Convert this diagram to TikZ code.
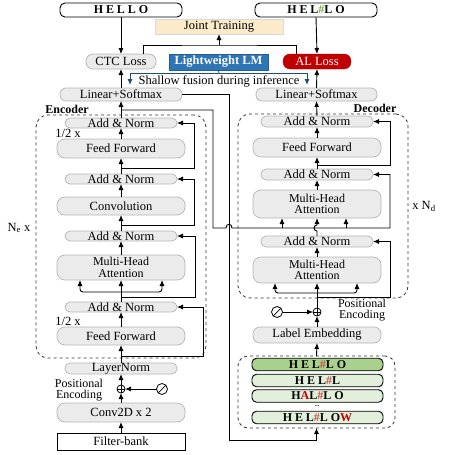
\documentclass[tikz,border=0pt]{standalone}
\usepackage{fontspec}
\setmainfont{Liberation Serif}
\newfontfamily\spaced[LetterSpace=24]{Liberation Serif}
\usetikzlibrary{arrows.meta,calc}
\definecolor{pillfill}{HTML}{EBEBEB}
\definecolor{pillborder}{HTML}{B5B5B5}
\definecolor{jointfill}{HTML}{FCEBCB}
\definecolor{lmblue}{HTML}{2E75B6}
\definecolor{alred}{HTML}{C00000}
\definecolor{fusblue}{HTML}{1F4E79}
\definecolor{hypdark}{HTML}{A9D18E}
\definecolor{hyplight}{HTML}{E2EFDA}
\definecolor{hashgreen}{HTML}{70AD47}
\definecolor{hashred}{HTML}{C0504D}
\definecolor{letred}{HTML}{C00000}
\begin{document}
\begin{tikzpicture}[x=1pt,y=-1pt,
  every node/.style={font=\fontsize{12.5}{11}\selectfont, inner sep=0pt, outer sep=0pt},
  sz/.style 2 args={minimum width=#1, minimum height=#2},
  pill/.style={draw=pillborder, fill=pillfill, rounded corners=5pt, line width=0.7pt},
  twoline/.style={align=center, font=\fontsize{12}{11.5}\selectfont},
  wordbox/.style={draw=black, fill=white, rounded corners=5pt, line width=0.9pt, font=\fontsize{12}{12}\selectfont\spaced\bfseries},
  hyp/.style={draw=black, rounded corners=4.5pt, line width=0.9pt, minimum width=131, minimum height=12.5, font=\fontsize{12}{12}\selectfont\spaced\bfseries},
  dashbox/.style={draw=black!80, dashed, rounded corners=12pt, line width=0.8pt},
  arr/.style={-{Latex[length=6pt,width=5pt]}, line width=0.9pt},
  ln/.style={line width=0.9pt},
  barr/.style={-{Latex[length=6pt,width=5pt]}, line width=0.9pt, draw=fusblue},
  sumc/.style={circle, draw=black, line width=0.8pt, minimum size=8pt},
  zeroc/.style={circle, draw=black, line width=0.8pt, minimum size=11pt},
  lbl/.style={align=center, font=\fontsize{12.5}{10}\selectfont},
  lbl2/.style={align=center, font=\fontsize{12}{11.5}\selectfont}
]
\useasboundingbox (0,0) rectangle (450,455);

% ---------- dashed frames ----------
\node[dashbox, sz={170}{243}] (encbox) at (121,236.5) {};
\node[dashbox, sz={170}{184}] (decbox) at (323,206) {};
\node[dashbox, rounded corners=10pt, sz={157}{72}] (hyps) at (316.5,392) {};

% ---------- top ----------
\node[wordbox, sz={122}{14}] (hello) at (121,10) {HELLO};
\node[wordbox, sz={122}{14}] (hello2) at (316,10) {HEL\textcolor{hashgreen}{\#}LO};
\node[draw=black!15, fill=jointfill, sz={128}{15}] (joint) at (219,26.5) {Joint Training};
\node[pill, sz={70}{15}, rounded corners=7pt] (ctc) at (121,61.5) {CTC Loss};
\node[fill=lmblue, draw=lmblue!80!black, sz={99}{16}, text=white, font=\fontsize{12.5}{11}\selectfont\bfseries] (lm) at (218.5,62) {Lightweight LM};
\node[fill=alred, draw=alred, rounded corners=7pt, sz={68}{15}, text=white] (al) at (317,61.5) {AL Loss};
\node[pill, sz={122}{13}, rounded corners=6pt] (enclin) at (121,94.5) {Linear+Softmax};
\node[pill, sz={121}{13}, rounded corners=6pt] (declin) at (316.5,94.5) {Linear+Softmax};
\node[lbl] (fus) at (219,81.5) {Shallow fusion during inference};

% ---------- encoder ----------
\node[font=\fontsize{12}{11}\selectfont\bfseries] (enclbl) at (67,109) {Encoder};
\node[pill, sz={112}{10}] (ean1) at (121,123) {Add \& Norm};
\node[lbl] (half1) at (68,133) {1/2 x};
\node[pill, sz={128}{19}, rounded corners=8pt] (eff1) at (121,148.5) {Feed Forward};
\node[pill, sz={112}{10}] (ean2) at (121,179) {Add \& Norm};
\node[pill, sz={128}{18}, rounded corners=8pt] (econv) at (121,206) {Convolution};
\node[pill, sz={112}{10}] (ean3) at (121,236) {Add \& Norm};
\node[pill, twoline, sz={128}{25}, rounded corners=8pt] (emha) at (121,267.5) {Multi-Head\\Attention};
\node[pill, sz={112}{10}] (ean4) at (121,307) {Add \& Norm};
\node[lbl] (half2) at (68,321) {1/2 x};
\node[pill, sz={128}{18}, rounded corners=8pt] (eff2) at (121,336) {Feed Forward};
\node[pill, sz={112}{11}] (eln) at (121,368.5) {LayerNorm};
\node[sumc] (eplus) at (121,389) {};
\node[zeroc] (ephi) at (162,389) {};
\node[lbl2] (epos) at (79,390) {Positional\\Encoding};
\node[pill, sz={128}{19}, rounded corners=8pt] (econv2) at (121,412.5) {Conv2D x 2};
\node[draw=black, fill=white, line width=0.9pt, sz={128}{17}] (efb) at (121,441.5) {Filter-bank};
\node[lbl] (ne) at (19,228) {N\textsubscript{e} x};

% ---------- decoder ----------
\node[font=\fontsize{12}{11}\selectfont\bfseries] (declbl) at (375,108) {Decoder};
\node[pill, sz={112}{11}] (dan1) at (317,121.5) {Add \& Norm};
\node[pill, sz={128}{19}, rounded corners=8pt] (dff) at (317,147.5) {Feed Forward};
\node[pill, sz={112}{11}] (dan2) at (317,174.5) {Add \& Norm};
\node[pill, twoline, sz={128}{28}, rounded corners=8pt] (dmha1) at (317,204) {Multi-Head\\Attention};
\node[pill, sz={112}{11}] (dan3) at (317,241.5) {Add \& Norm};
\node[pill, twoline, sz={128}{26}, rounded corners=8pt] (dmha2) at (317,270) {Multi-Head\\Attention};
\node[lbl] (nd) at (424,206) {x N\textsubscript{d}};
\node[sumc] (dplus) at (317,312) {};
\node[zeroc] (dphi) at (277,312) {};
\node[lbl2] (dpos) at (362,310) {Positional\\Encoding};
\node[pill, sz={128}{16}, rounded corners=7pt] (demb) at (317,335) {Label Embedding};

\node[hyp, fill=hypdark] (h1) at (317.5,364.5) {HEL\textcolor{hashred}{\#}LO};
\node[hyp, fill=hyplight] (h2) at (317.5,380.5) {HEL\textcolor{hashred}{\#}L};
\node[hyp, fill=hyplight] (h3) at (317.5,396) {H\textcolor{letred}{A}L\textcolor{hashred}{\#}LO};
\node[font=\fontsize{6}{6}\selectfont\bfseries] (hdots) at (317,406.5) {...};
\node[hyp, fill=hyplight] (h4) at (317.5,417.5) {HEL\textcolor{hashred}{\#}LO\textcolor{letred}{W}};

% ---------- plus / zero symbols ----------
\draw[line width=0.7pt] (eplus.north) -- (eplus.south) (eplus.west) -- (eplus.east);
\draw[line width=0.7pt] (dplus.north) -- (dplus.south) (dplus.west) -- (dplus.east);
\draw[line width=0.7pt] (ephi.south west) -- (ephi.north east);
\draw[line width=0.7pt] (dphi.south west) -- (dphi.north east);

% ---------- top connectors ----------
\draw[arr] (hello.south) -- (ctc.north);
\draw[arr] (hello2.south) -- (al.north);
\coordinate (jt) at (219,45);
\draw[ln] ($(ctc.north)+(22,0)$) |- (jt) -| ($(al.north)+(-21,0)$);
\draw[arr] (jt) -- (joint.south);
\draw[arr] (enclin.north) -- (ctc.south);
\draw[arr] (declin.north) -- (al.south);
\coordinate (fb) at (219,73);
\draw[ln, draw=fusblue] (lm.south) -- (fb);
\draw[barr] (fb) -| (130,85);
\draw[barr] (fb) -| (307,85);

% ---------- encoder flow ----------
\draw[arr] (efb.north) -- (econv2.south);
\draw[arr] (econv2.north) -- (eplus.south);
\draw[arr] (ephi.west) -- (eplus.east);
\draw[arr] (eplus.north) -- (eln.south);
\draw[arr] (eln.north) -- (eff2.south);
\draw[arr] (eff2.north) -- (ean4.south);
\draw[arr] (ean4.north) -- (emha.south);
\coordinate (eb) at (121,292);
\draw[arr, rounded corners=3pt] (eb) -| (80,280);
\draw[arr, rounded corners=3pt] (eb) -| (162,280);
\draw[arr] (emha.north) -- (ean3.south);
\draw[arr] (ean3.north) -- (econv.south);
\draw[arr] (econv.north) -- (ean2.south);
\draw[arr] (ean2.north) -- (eff1.south);
\draw[arr] (eff1.north) -- (ean1.south);
\draw[arr] (ean1.north) -- (enclin.south);
% residuals
\coordinate (er1) at (121,168);
\coordinate (er2) at (121,225);
\coordinate (er3) at (121,297);
\coordinate (er4) at (121,356);
\draw[arr] (er1) -- (194,168) |- (ean1.east);
\draw[arr] (er2) -- (194,225) |- (ean2.east);
\draw[arr] (er3) -- (195,297) |- (ean3.east);
\draw[arr] (er4) -- (203,356) |- (ean4.east);

% encoder output to decoder cross attention
\coordinate (eo) at (121,110);
\draw[arr] (eo) -- (213,110) -- (213,228) -- (226,228)
  .. controls (226,223) and (232,223) .. (232,228)
  -- (390,228) |- (dan2.east);
\draw[arr] ($(dmha1.south)+(-35,10)$) -- ($(dmha1.south)+(-35,0)$);
\draw[arr] ($(dmha1.south)+(29,10)$) -- ($(dmha1.south)+(29,0)$);

% CTC output to hypotheses
\draw[arr] (enclin.east) -| (229,440) -| (hyps.south);

% ---------- decoder flow ----------
\draw[arr] (hyps.north) -- (demb.south);
\draw[arr] (demb.north) -- (dplus.south);
\draw[arr] (dphi.east) -- (dplus.west);
\draw[arr] (dplus.north) -- (dmha2.south);
\coordinate (db) at (317,293);
\draw[arr, rounded corners=3pt] (db) -| (275,283);
\draw[arr, rounded corners=3pt] (db) -| (357,283);
\coordinate (dr3) at (317,297);
\draw[arr] (dr3) -- (390,297) |- (dan3.east);
\draw[arr] (dmha2.north) -- (dan3.south);
\draw[arr] (dan3.north) -- (317,231)
  .. controls (313,231) and (313,225) .. (317,225) -- (dmha1.south);
\draw[arr] (dmha1.north) -- (dan2.south);
\draw[arr] (dan2.north) -- (dff.south);
\coordinate (dr1) at (317,165);
\draw[arr] (dr1) -- (390,165) |- (dan1.east);
\draw[arr] (dff.north) -- (dan1.south);
\draw[arr] (dan1.north) -- (declin.south);
\end{tikzpicture}
\end{document}
